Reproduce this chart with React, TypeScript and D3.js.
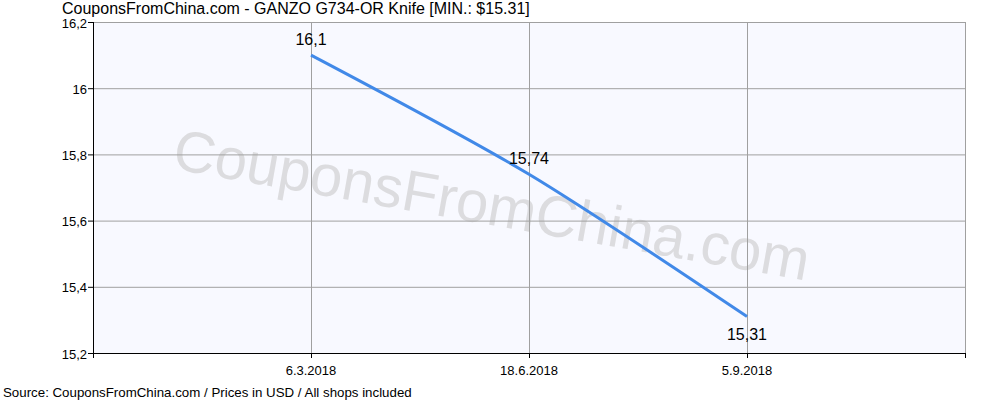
import React, { useRef, useEffect } from 'react';
import * as d3 from 'd3';

const dates = ['6.3.2018', '18.6.2018', '5.9.2018'];
const prices = [16.1, 15.74, 15.31];
const priceLabels = ['16,1', '15,74', '15,31'];
const yTicks = [15.2, 15.4, 15.6, 15.8, 16, 16.2];
const yTickLabels = ['15,2', '15,4', '15,6', '15,8', '16', '16,2'];

const width = 1000;
const height = 400;
const margin = { top: 22, right: 35, bottom: 47, left: 93 };
const font = '"Liberation Sans", Arial, sans-serif';

const PriceChart: React.FC = () => {
  const svgRef = useRef<SVGSVGElement>(null);

  useEffect(() => {
    if (!svgRef.current) return;
    const svg = d3.select(svgRef.current);
    svg.selectAll('*').remove();

    const x0 = margin.left;
    const x1 = width - margin.right;
    const y0 = height - margin.bottom;
    const y1 = margin.top;

    // categories sit at 1/4, 2/4, 3/4 of the plot width
    const x = d3.scalePoint<string>()
      .domain(['', ...dates, ' '])
      .range([x0, x1]);
    const y = d3.scaleLinear().domain([15.2, 16.2]).range([y0, y1]);

    svg.append('rect')
      .attr('width', width)
      .attr('height', height)
      .attr('fill', 'white');

    svg.append('rect')
      .attr('x', x0)
      .attr('y', y1)
      .attr('width', x1 - x0)
      .attr('height', y0 - y1)
      .attr('fill', '#f8f9ff');

    // watermark
    svg.append('text')
      .attr('transform', `translate(${(x0 + x1) / 2 - 38}, ${(y0 + y1) / 2 + 22}) rotate(10)`)
      .attr('text-anchor', 'middle')
      .attr('dominant-baseline', 'middle')
      .attr('font-family', font)
      .attr('font-size', 58)
      .attr('fill', '#dcdcdf')
      .text('CouponsFromChina.com');

    // grid
    yTicks.forEach(t => {
      svg.append('line')
        .attr('x1', x0).attr('x2', x1)
        .attr('y1', y(t) + 0.5).attr('y2', y(t) + 0.5)
        .attr('stroke', '#a0a0a0');
    });
    dates.forEach(d => {
      svg.append('line')
        .attr('x1', (x(d) as number) + 0.5).attr('x2', (x(d) as number) + 0.5)
        .attr('y1', y1).attr('y2', y0)
        .attr('stroke', '#a0a0a0');
    });
    svg.append('line')
      .attr('x1', x1 + 0.5).attr('x2', x1 + 0.5)
      .attr('y1', y1).attr('y2', y0)
      .attr('stroke', '#a0a0a0');

    // axes
    svg.append('line')
      .attr('x1', x0 + 0.5).attr('x2', x0 + 0.5)
      .attr('y1', y1).attr('y2', y0 + 5)
      .attr('stroke', 'black');
    svg.append('line')
      .attr('x1', x0).attr('x2', x1 + 1)
      .attr('y1', y0 + 0.5).attr('y2', y0 + 0.5)
      .attr('stroke', 'black');

    yTicks.forEach((t, i) => {
      svg.append('line')
        .attr('x1', x0 - 5).attr('x2', x0)
        .attr('y1', y(t) + 0.5).attr('y2', y(t) + 0.5)
        .attr('stroke', 'black');
      svg.append('text')
        .attr('x', x0 - 6)
        .attr('y', y(t) + 5.5)
        .attr('text-anchor', 'end')
        .attr('font-family', font)
        .attr('font-size', 13)
        .attr('fill', 'black')
        .text(yTickLabels[i]);
    });

    [...dates.map(d => x(d) as number), x1].forEach(px => {
      svg.append('line')
        .attr('x1', px + 0.5).attr('x2', px + 0.5)
        .attr('y1', y0).attr('y2', y0 + 5)
        .attr('stroke', 'black');
    });
    dates.forEach(d => {
      svg.append('text')
        .attr('x', x(d) as number)
        .attr('y', y0 + 22)
        .attr('text-anchor', 'middle')
        .attr('font-family', font)
        .attr('font-size', 13)
        .attr('fill', 'black')
        .text(d);
    });

    // series
    const line = d3.line<number>()
      .x((_, i) => x(dates[i]) as number)
      .y(v => y(v))
      .curve(d3.curveCardinal.tension(0.2));

    svg.append('path')
      .attr('d', line(prices) as string)
      .attr('fill', 'none')
      .attr('stroke', '#4189e8')
      .attr('stroke-width', 3);

    prices.forEach((v, i) => {
      const below = i === prices.length - 1;
      svg.append('text')
        .attr('x', x(dates[i]) as number)
        .attr('y', below ? y(v) + 23 : y(v) - 10)
        .attr('text-anchor', 'middle')
        .attr('font-family', font)
        .attr('font-size', 16)
        .attr('fill', 'black')
        .text(priceLabels[i]);
    });

    // title and footer
    svg.append('text')
      .attr('x', 62)
      .attr('y', 14)
      .attr('font-family', font)
      .attr('font-size', 16)
      .attr('fill', 'black')
      .text('CouponsFromChina.com - GANZO G734-OR Knife [MIN.: $15.31]');

    svg.append('text')
      .attr('x', 3)
      .attr('y', 397)
      .attr('font-family', font)
      .attr('font-size', 13.3)
      .attr('fill', 'black')
      .text('Source: CouponsFromChina.com / Prices in USD / All shops included');
  }, []);

  return <svg ref={svgRef} width={width} height={height} style={{ display: 'block' }} />;
};

export default function App() {
  return (
    <div style={{ position: 'fixed', left: 0, top: 0 }}>
      <PriceChart />
    </div>
  );
}
